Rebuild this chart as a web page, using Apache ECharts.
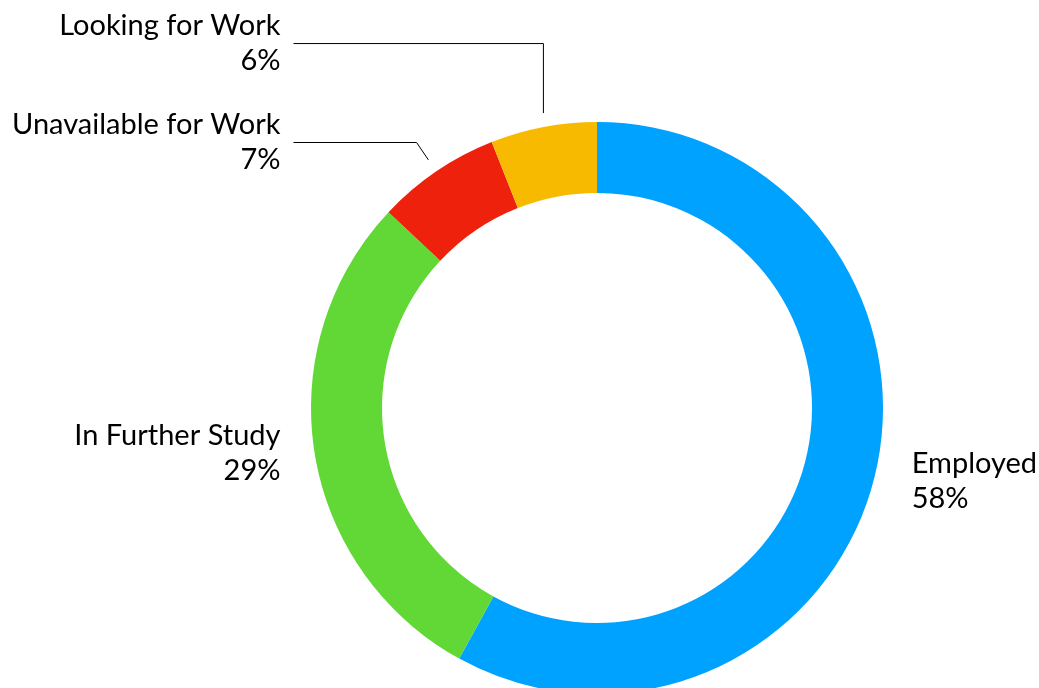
<!DOCTYPE html>
<html>
<head>
<meta charset="utf-8">
<style>
  html, body { margin: 0; padding: 0; background: #fff; }
  #main { width: 1039px; height: 688px; }
</style>
<script src="https://cdn.jsdelivr.net/npm/echarts@6/dist/echarts.min.js"></script>
</head>
<body>
<div id="main"></div>
<script>
var categories = ['Employed', 'In Further Study', 'Unavailable for Work', 'Looking for Work'];
var shares = [58, 29, 7, 6];
var colors = ['#00A2FF', '#61D836', '#EE220C', '#F8BA00'];

var myChart = echarts.init(document.getElementById('main'));

// small slices get a leader line, big ones only a label
var lineLen = [10, 5, 35, 85];
var lineLen2 = [15, 5, 112, 234];
var labelPad = [[5, 0, 0, 0], [5, 0, 0, 0], [26, 0, 21, 0], [5, 0, 0, 0]];
var lineGap = 14; // leader line starts a bit off the ring

var data = categories.map(function (name, i) {
    return {
        name: name,
        value: shares[i],
        itemStyle: { color: colors[i] },
        label: { padding: labelPad[i] },
        labelLine: {
            show: shares[i] < 10,
            length: lineLen[i],
            length2: lineLen2[i]
        }
    };
});

var option = {
    animation: false,
    series: [{
        type: 'pie',
        center: ['57.46%', '59.3%'],
        radius: [215, 286],
        startAngle: 90,
        clockwise: true,
        avoidLabelOverlap: true,
        label: {
            formatter: '{b}\n{c}%',
            fontFamily: 'Lato',
            fontSize: 29,
            lineHeight: 35,
            color: '#000',
            alignTo: 'labelLine',
            distanceToLabelLine: 13,
            bleedMargin: 0,
            overflow: 'none'
        },
        labelLine: {
            lineStyle: { color: '#000', width: 1 }
        },
        labelLayout: function (params) {
            var pts = params.labelLinePoints;
            if (!pts || pts.length < 3) return {};
            var p0 = pts[0], p1 = pts[1];
            // steep first segment -> straight up
            if (Math.abs(p1[0] - p0[0]) < Math.abs(p1[1] - p0[1]) * 0.3) {
                p1[0] = p0[0];
            }
            var dx = p1[0] - p0[0], dy = p1[1] - p0[1];
            var len = Math.sqrt(dx * dx + dy * dy);
            if (len > lineGap) {
                p0[0] += dx / len * lineGap;
                p0[1] += dy / len * lineGap;
            }
            return { labelLinePoints: pts };
        },
        data: data
    }]
};

myChart.setOption(option);
</script>
</body>
</html>
